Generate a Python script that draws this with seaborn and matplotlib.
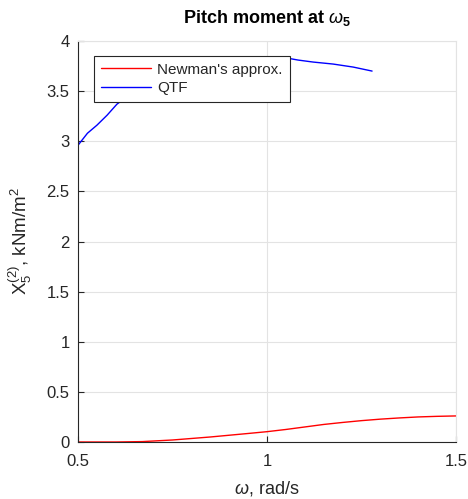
import numpy as np
import pandas as pd
import matplotlib
matplotlib.use("Agg")
import matplotlib.pyplot as plt
import seaborn as sns

# Newman's approximation of the pitch moment
omega_newman = [0.50, 0.60, 0.67, 0.75, 0.85, 0.95, 1.00, 1.05, 1.10, 1.15,
                1.20, 1.25, 1.30, 1.35, 1.40, 1.45, 1.50]
x5_newman = [0.0, 0.0, 0.004, 0.02, 0.05, 0.085, 0.103, 0.125, 0.15, 0.175,
             0.195, 0.213, 0.228, 0.240, 0.250, 0.256, 0.260]

# Full QTF result
omega_qtf = [0.500, 0.525, 0.550, 0.577, 0.603, 0.650, 0.700, 0.800, 0.900,
             1.000, 1.053, 1.082, 1.122, 1.175, 1.228, 1.278]
x5_qtf = [2.96, 3.08, 3.16, 3.26, 3.37, 3.50, 3.60, 3.74, 3.81,
          3.84, 3.83, 3.81, 3.79, 3.77, 3.74, 3.70]

series_names = ["Newman's approx.", "QTF"]
x_ticks = [0.5, 1.0, 1.5]
x_tick_labels = ["0.5", "1", "1.5"]
y_ticks = [0, 0.5, 1, 1.5, 2, 2.5, 3, 3.5, 4]
y_tick_labels = ["0", "0.5", "1", "1.5", "2", "2.5", "3", "3.5", "4"]

df = pd.concat([
    pd.DataFrame({"omega": omega_newman, "X5": x5_newman, "series": series_names[0]}),
    pd.DataFrame({"omega": omega_qtf, "X5": x5_qtf, "series": series_names[1]}),
], ignore_index=True)

sns.set_style("white")
plt.rcParams["font.family"] = ["Liberation Sans", "DejaVu Sans"]
plt.rcParams["mathtext.fontset"] = "custom"
plt.rcParams["mathtext.rm"] = "Liberation Sans"
plt.rcParams["mathtext.it"] = "Liberation Sans:italic"
plt.rcParams["mathtext.bf"] = "Liberation Sans:bold"

fig = plt.figure(figsize=(4.68, 4.99), dpi=100)
ax = fig.add_axes([78 / 468, 1 - 442 / 499, (456 - 78) / 468, (442 - 41) / 499])

sns.lineplot(data=df, x="omega", y="X5", hue="series", hue_order=series_names,
             palette={series_names[0]: "#ff0000", series_names[1]: "#0000ff"},
             linewidth=1.0, ax=ax, estimator=None, sort=False)

ax.set_xlim(0.5, 1.5)
ax.set_ylim(0, 4)
ax.set_xticks(x_ticks)
ax.set_xticklabels(x_tick_labels)
ax.set_yticks(y_ticks)
ax.set_yticklabels(y_tick_labels)

ax.grid(True, color="#e3e3e3", linewidth=0.8)
ax.set_axisbelow(True)
for side in ["top", "right"]:
    ax.spines[side].set_color("#e3e3e3")
    ax.spines[side].set_linewidth(0.8)
for side in ["left", "bottom"]:
    ax.spines[side].set_color("#262626")
    ax.spines[side].set_linewidth(0.8)

ax.tick_params(axis="both", direction="in", length=4, width=0.8,
               colors="#262626", labelsize=12, top=False, right=False,
               bottom=True, left=True)
ax.tick_params(axis="x", pad=9)
ax.tick_params(axis="y", pad=6)

ax.set_xlabel(r"$\omega$, rad/s", fontsize=13, color="#262626", labelpad=7)
ax.set_ylabel(r"X$_5^{(2)}$, kNm/m$^2$", fontsize=13.5, color="#262626", labelpad=9)
ax.set_title(r"Pitch moment at $\omega_\mathbf{5}$", fontsize=13, fontweight="bold",
             color="black", pad=13)

leg = ax.legend(loc="upper left", bbox_to_anchor=(0.042, 0.963), fontsize=11,
                frameon=True, fancybox=False, framealpha=1, edgecolor="#262626",
                handlelength=3.3, borderpad=0.45, labelspacing=0.3,
                handletextpad=0.4, borderaxespad=0)
leg.get_frame().set_linewidth(0.8)
leg.set_title(None)

fig.savefig("out.png", dpi=100)
